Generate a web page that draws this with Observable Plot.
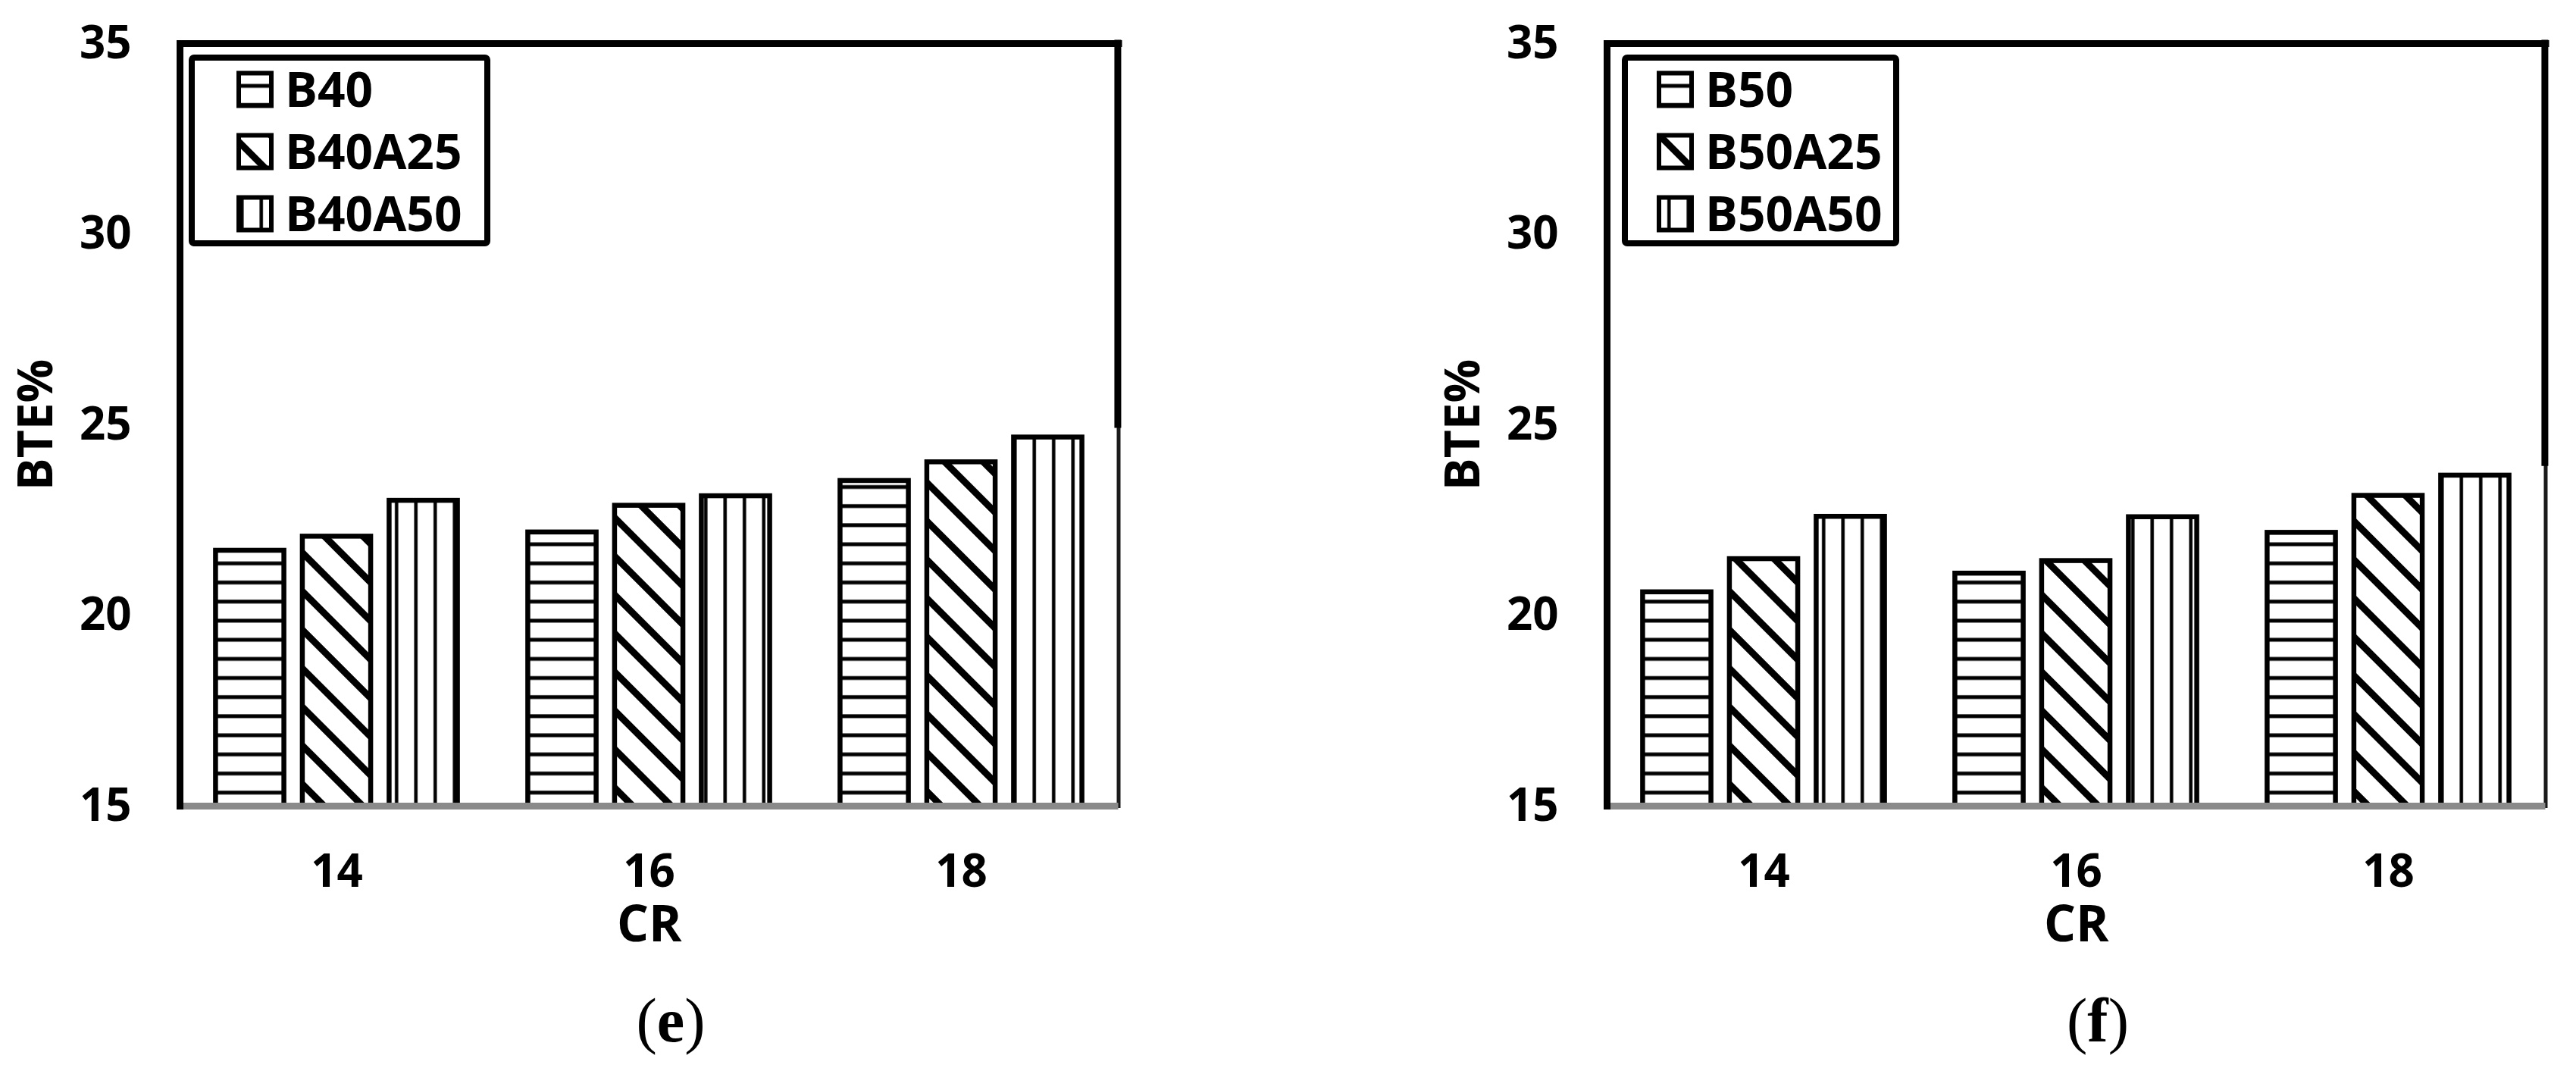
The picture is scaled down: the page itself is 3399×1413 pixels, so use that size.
<!DOCTYPE html>
<html>
<head>
<meta charset="utf-8">
<script src="https://cdn.jsdelivr.net/npm/d3@7"></script>
<script src="https://cdn.jsdelivr.net/npm/@observablehq/plot@0.6"></script>
<style>
  html, body { margin: 0; padding: 0; background: #fff; }
  #page { position: relative; width: 3399px; height: 1413px; overflow: hidden; background: #fff; }
  .panel { position: absolute; top: 0; }
  .caption { position: absolute; top: 1306px; font-family: "Liberation Serif", "DejaVu Serif", serif; font-size: 82px; line-height: 1; transform: translateX(-50%); color: #000; white-space: nowrap; }
  .caption b { font-weight: bold; }
</style>
</head>
<body>
<div id="page"></div>
<script>
// ---------- data ----------
const crLabels = ["14", "16", "18"];
const yTicks = [15, 20, 25, 30, 35];
const yLabel = "BTE%";
const xLabel = "CR";

const seriesE = ["B40", "B40A25", "B40A50"];
const e_B40    = [21.70, 22.18, 23.53];
const e_B40A25 = [22.07, 22.88, 24.02];
const e_B40A50 = [23.01, 23.13, 24.67];

const seriesF = ["B50", "B50A25", "B50A50"];
const f_B50    = [20.61, 21.10, 22.17];
const f_B50A25 = [21.48, 21.43, 23.14];
const f_B50A50 = [22.59, 22.58, 23.67];

const captions = ["e", "f"];

// ---------- layout / style ----------
const W = 1500, H = 1260;
const mL = 237, mR = 24.5, mT = 57, mB = 197;
const bandW = (W - mL - mR) / crLabels.length;
const barW = 91, barPitch = 114.5;
const FONT = "'Open Sans', 'DejaVu Sans', sans-serif";

function rowsFor(series, arrays) {
  const rows = [];
  series.forEach((s, si) => crLabels.forEach((c, ci) => rows.push({cr: c, series: s, value: arrays[si][ci]})));
  return rows;
}

function addDefs(svg, id) {
  const defs = d3.select(svg).insert("defs", ":first-child");
  const h = defs.append("pattern").attr("id", id + "-h").attr("patternUnits", "userSpaceOnUse").attr("width", 25).attr("height", 25.2);
  h.append("rect").attr("width", 25).attr("height", 25.2).attr("fill", "#fff");
  h.append("rect").attr("y", 10).attr("width", 25).attr("height", 5).attr("fill", "#000");
  const d = defs.append("pattern").attr("id", id + "-d").attr("patternUnits", "userSpaceOnUse").attr("width", 36).attr("height", 36).attr("patternTransform", "rotate(45)");
  d.append("rect").attr("width", 36).attr("height", 36).attr("fill", "#fff");
  d.append("rect").attr("y", 13).attr("width", 36).attr("height", 9).attr("fill", "#000");
  const v = defs.append("pattern").attr("id", id + "-v").attr("patternUnits", "userSpaceOnUse").attr("width", 25.5).attr("height", 25);
  v.append("rect").attr("width", 25.5).attr("height", 25).attr("fill", "#fff");
  v.append("rect").attr("x", 11).attr("width", 4.5).attr("height", 25).attr("fill", "#000");
}

function makePanel(id, series, arrays, breakVal, legend) {
  const rows = rowsFor(series, arrays);
  const pats = [id + "-h", id + "-d", id + "-v"];
  const bars = series.map((s, i) => {
    const insetLeft = bandW / 2 + (i - 1) * barPitch - barW / 2;
    const insetRight = bandW - insetLeft - barW;
    return Plot.barY(rows.filter(r => r.series === s), {
      x: "cr", y1: yTicks[0], y2: "value",
      fill: `url(#${pats[i]})`, stroke: "#000", strokeWidth: 6.5,
      insetLeft, insetRight
    });
  });
  const svg = Plot.plot({
    width: W, height: H,
    marginLeft: mL, marginRight: mR, marginTop: mT, marginBottom: mB,
    x: {type: "band", domain: crLabels, padding: 0, axis: null},
    y: {domain: [yTicks[0], yTicks[yTicks.length - 1]], axis: null},
    style: {fontFamily: FONT, fontWeight: "bold", color: "#000", background: "#fff", overflow: "visible"},
    marks: [
      ...bars,
      Plot.frame({anchor: "right", stroke: "#1a1a1a", strokeWidth: 5}),
      Plot.ruleX([crLabels[crLabels.length - 1]], {y1: breakVal, y2: yTicks[yTicks.length - 1], dx: bandW / 2, stroke: "#000", strokeWidth: 9, strokeLinecap: "square"}),
      Plot.ruleY([yTicks[0]], {stroke: "#8a8a8a", strokeWidth: 9}),
      Plot.frame({anchor: "top", stroke: "#000", strokeWidth: 9, strokeLinecap: "square"}),
      Plot.frame({anchor: "left", stroke: "#000", strokeWidth: 9, strokeLinecap: "square"}),
      Plot.axisY({ticks: yTicks, tickSize: 0, tickPadding: 64, fontSize: 60, fontWeight: "bold", label: null}),
      Plot.axisX({tickSize: 0, tickPadding: 64, fontSize: 60, fontWeight: "bold", label: null}),
      Plot.text([yLabel], {frameAnchor: "left", textAnchor: "middle", lineAnchor: "middle", rotate: -90, dx: -189, fontSize: 64, fontWeight: "bold"}),
      Plot.text([xLabel], {frameAnchor: "bottom", textAnchor: "middle", lineAnchor: "middle", dy: 157, fontSize: 66, fontWeight: "bold"})
    ]
  });
  addDefs(svg, id);
  // legend
  const g = d3.select(svg).append("g").attr("font-family", FONT).attr("font-weight", "bold").attr("text-anchor", "start");
  g.append("rect").attr("x", legend.x).attr("y", 76).attr("width", legend.w).attr("height", 245)
    .attr("rx", 3).attr("fill", "#fff").attr("stroke", "#000").attr("stroke-width", 8);
  const rowY = [118, 200, 282];
  series.forEach((s, i) => {
    g.append("rect").attr("x", legend.sx + 3).attr("y", rowY[i] - 21.5).attr("width", 43).attr("height", 43)
      .attr("fill", `url(#${pats[i]})`).attr("stroke", "#000").attr("stroke-width", 6);
    g.append("text").attr("x", legend.tx).attr("y", rowY[i]).attr("dy", "0.36em").attr("text-anchor", "start")
      .attr("font-size", 64).attr("fill", "#000").text(s);
  });
  return svg;
}

const page = document.getElementById("page");
const panels = [
  {id: "pe", series: seriesE, arrays: [e_B40, e_B40A25, e_B40A50], brk: 25, left: 0, legend: {x: 253, w: 390, sx: 312, tx: 376}, cap: 885},
  {id: "pf", series: seriesF, arrays: [f_B50, f_B50A25, f_B50A50], brk: 24, left: 1883, legend: {x: 261, w: 358, sx: 303, tx: 367}, cap: 2768}
];
panels.forEach((p, i) => {
  const div = document.createElement("div");
  div.className = "panel";
  div.style.left = p.left + "px";
  div.appendChild(makePanel(p.id, p.series, p.arrays, p.brk, p.legend));
  page.appendChild(div);
  const cap = document.createElement("div");
  cap.className = "caption";
  cap.style.left = p.cap + "px";
  cap.innerHTML = "(<b>" + captions[i] + "</b>)";
  page.appendChild(cap);
});
</script>
</body>
</html>
